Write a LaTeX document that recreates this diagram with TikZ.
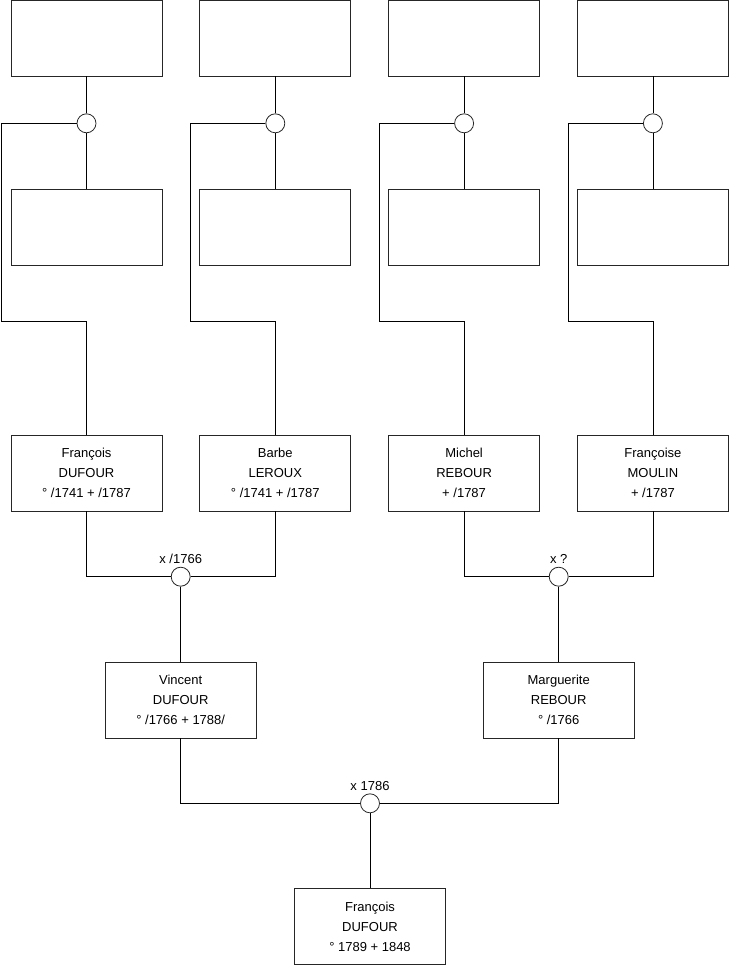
\documentclass[tikz,border=0pt]{standalone}
\usepackage{fontspec}
\setmainfont{Liberation Sans}
\usetikzlibrary{positioning}

\tikzset{
    person/.style={draw=black!85, minimum width=151pt, minimum height=76pt, inner sep=2pt, align=center, font=\fontsize{13}{20}\selectfont},
    union/.style={draw=black!85, circle, minimum size=19pt, inner sep=0pt},
    year/.style={inner sep=2.5pt, font=\fontsize{13}{16}\selectfont}
}

\begin{document}
\begin{tikzpicture}[x=1pt, y=-1pt, line width=0.8pt]
    \useasboundingbox (0,0) rectangle (740,975);

    % great-grandparents (unknown)
    \node[person] (t1) at (86.5,38) {};
    \node[person, right=37pt of t1] (t2) {};
    \node[person, right=37pt of t2] (t3) {};
    \node[person, right=37pt of t3] (t4) {};

    \node[union, below=37pt of t1] (c1) {};
    \node[union, below=37pt of t2] (c2) {};
    \node[union, below=37pt of t3] (c3) {};
    \node[union, below=37pt of t4] (c4) {};

    \node[person, below=56pt of c1] (m1) {};
    \node[person, below=56pt of c2] (m2) {};
    \node[person, below=56pt of c3] (m3) {};
    \node[person, below=56pt of c4] (m4) {};

    % grandparents
    \node[person] (p1) at (86.5,473) {François\\DUFOUR\\° /1741 + /1787};
    \node[person, right=37pt of p1] (p2) {Barbe\\LEROUX\\° /1741 + /1787};
    \node[person, right=37pt of p2] (p3) {Michel\\REBOUR\\+ /1787};
    \node[person, right=37pt of p3] (p4) {Françoise\\MOULIN\\+ /1787};

    \node[union] (u1) at (180.7,576.7) {};
    \node[union] (u2) at (558.7,576.7) {};
    \node[year, above=0pt of u1] (y1) {x /1766};
    \node[year, above=0pt of u2] (y2) {x ?};

    % parents
    \node[person, below=75pt of u1] (v) {Vincent\\DUFOUR\\° /1766 + 1788/};
    \node[person, below=75pt of u2] (g) {Marguerite\\REBOUR\\° /1766};

    \node[union] (u3) at (370,803.3) {};
    \node[year, above=0pt of u3] (y3) {x 1786};

    \node[person, below=75pt of u3] (f) {François\\DUFOUR\\° 1789 + 1848};

    \draw
        (t1) -- (c1) -- (m1)
        (t2) -- (c2) -- (m2)
        (t3) -- (c3) -- (m3)
        (t4) -- (c4) -- (m4)
        (c1.west) -| (1.7,321.7) -| (p1.north)
        (c2.west) -| (190.5,321.7) -| (p2.north)
        (c3.west) -| (379.5,321.7) -| (p3.north)
        (c4.west) -| (568.5,321.7) -| (p4.north)
        (p1) |- (u1)
        (p2) |- (u1)
        (p3) |- (u2)
        (p4) |- (u2)
        (u1) -- (v)
        (u2) -- (g)
        (v) |- (u3)
        (g) |- (u3)
        (u3) -- (f)
        ;
\end{tikzpicture}
\end{document}
